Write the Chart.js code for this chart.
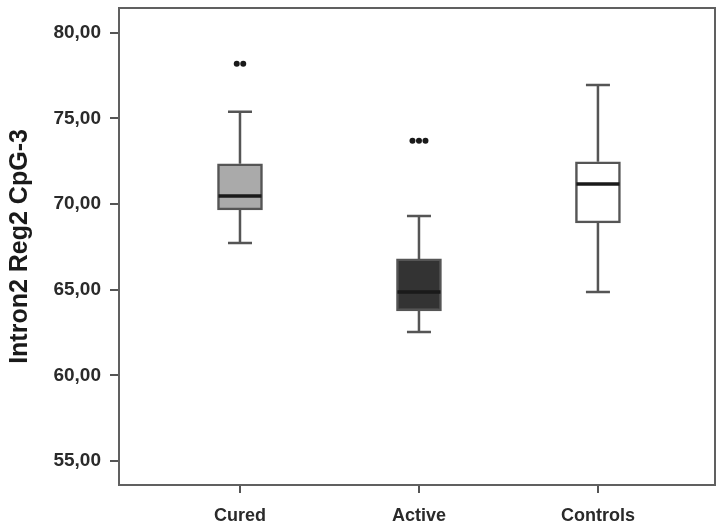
<!DOCTYPE html>
<html>
<head>
<meta charset="utf-8">
<script src="https://cdn.jsdelivr.net/npm/chart.js@4.4.1/dist/chart.umd.min.js"></script>
<style>
  html, body { margin: 0; padding: 0; background: #ffffff; }
  #wrap { width: 723px; height: 532px; }
</style>
</head>
<body>
<div id="wrap"><canvas id="c" width="723" height="532"></canvas></div>
<script>
// ---- data ----
const categories = ['Cured', 'Active', 'Controls'];
const whiskerLow  = [67.73, 62.53, 64.87];
const q1          = [69.66, 63.76, 68.90];
const median      = [70.48, 64.87, 71.18];
const q3          = [72.35, 66.80, 72.47];
const whiskerHigh = [75.39, 69.31, 76.96];
const outliers    = [[78.2, 78.2], [73.7, 73.7, 73.7], []];
const yTicks      = [55, 60, 65, 70, 75, 80];
const boxColors   = ['#aaaaaa', '#333333', '#ffffff'];

const EDGE = '#555555';

const boxPlugin = {
  id: 'boxExtras',
  beforeDatasetsDraw(chart) {
    const {ctx, scales: {x, y}} = chart;
    ctx.save();
    ctx.strokeStyle = EDGE;
    ctx.lineWidth = 2.5;
    categories.forEach((c, i) => {
      const px = x.getPixelForValue(i + 1);
      const capHalf = 12;
      ctx.beginPath();
      ctx.moveTo(px, y.getPixelForValue(q3[i]));
      ctx.lineTo(px, y.getPixelForValue(whiskerHigh[i]));
      ctx.moveTo(px - capHalf, y.getPixelForValue(whiskerHigh[i]));
      ctx.lineTo(px + capHalf, y.getPixelForValue(whiskerHigh[i]));
      ctx.moveTo(px, y.getPixelForValue(q1[i]));
      ctx.lineTo(px, y.getPixelForValue(whiskerLow[i]));
      ctx.moveTo(px - capHalf, y.getPixelForValue(whiskerLow[i]));
      ctx.lineTo(px + capHalf, y.getPixelForValue(whiskerLow[i]));
      ctx.stroke();
    });
    ctx.restore();
  },
  afterDatasetsDraw(chart) {
    const {ctx, scales: {x, y}, chartArea} = chart;
    ctx.save();
    const bar = chart.getDatasetMeta(0).data;
    categories.forEach((c, i) => {
      const el = bar[i];
      const half = el.width / 2;
      const py = y.getPixelForValue(median[i]);
      ctx.strokeStyle = '#1a1a1a';
      ctx.lineWidth = 3.5;
      ctx.beginPath();
      ctx.moveTo(el.x - half + 1, py);
      ctx.lineTo(el.x + half - 1, py);
      ctx.stroke();
      const n = outliers[i].length;
      ctx.fillStyle = '#1a1a1a';
      outliers[i].forEach((v, k) => {
        const ox = x.getPixelForValue(i + 1) + (k - (n - 1) / 2) * 6.5;
        ctx.beginPath();
        ctx.arc(ox, y.getPixelForValue(v), 3, 0, Math.PI * 2);
        ctx.fill();
      });
    });
    ctx.strokeStyle = '#606060';
    ctx.lineWidth = 2;
    ctx.strokeRect(chartArea.left, chartArea.top, chartArea.right - chartArea.left, chartArea.bottom - chartArea.top);
    ctx.restore();
  }
};

new Chart(document.getElementById('c'), {
  type: 'bar',
  data: {
    datasets: [{
      data: categories.map((c, i) => ({ x: i + 1, y: [q1[i], q3[i]] })),
      backgroundColor: boxColors,
      borderColor: EDGE,
      borderWidth: 2.5,
      borderSkipped: false,
      barThickness: 45
    }]
  },
  plugins: [boxPlugin],
  options: {
    responsive: false,
    animation: false,
    devicePixelRatio: 1,
    layout: { padding: { top: 8, right: 8, left: 0, bottom: 0 } },
    plugins: { legend: { display: false }, tooltip: { enabled: false } },
    scales: {
      x: {
        type: 'linear',
        offset: false,
        min: 0.324,
        max: 3.654,
        afterBuildTicks: s => { s.ticks = categories.map((c, i) => ({ value: i + 1 })); },
        afterFit: s => { s.height = 47; s.paddingLeft = 0; s.paddingRight = 0; },
        ticks: {
          callback: v => categories[v - 1],
          font: { family: 'Liberation Sans', size: 18, weight: 'bold' },
          color: '#2a2a2a',
          padding: 12,
          maxRotation: 0,
          autoSkip: false
        },
        grid: { display: true, offset: false, drawOnChartArea: false, drawTicks: true, tickLength: 8, color: EDGE, lineWidth: 2 },
        border: { display: true, color: '#606060', width: 2 }
      },
      y: {
        min: 53.6,
        max: 81.45,
        afterBuildTicks: s => { s.ticks = yTicks.map(v => ({ value: v })); },
        afterFit: s => { s.width = 119; s.paddingTop = 0; s.paddingBottom = 0; },
        ticks: {
          callback: v => v.toFixed(2).replace('.', ','),
          font: { family: 'Liberation Sans', size: 19, weight: 'bold' },
          color: '#2a2a2a',
          padding: 9
        },
        grid: { display: true, drawOnChartArea: false, drawTicks: true, tickLength: 9, color: EDGE, lineWidth: 2 },
        border: { display: true, color: '#606060', width: 2 },
        title: {
          display: true,
          text: 'Intron2 Reg2 CpG-3',
          font: { family: 'Liberation Sans', size: 25, weight: 'bold' },
          color: '#1a1a1a',
          padding: { top: 5, bottom: 0 }
        }
      }
    }
  }
});
</script>
</body>
</html>
